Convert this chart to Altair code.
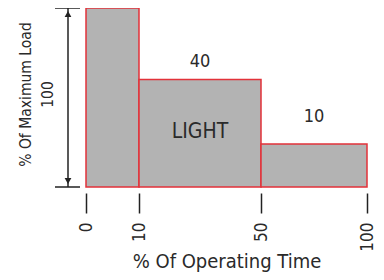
import altair as alt
import pandas as pd

# Bars: operating-time intervals and load levels
x_start = [0, 10, 50]
x_end = [10, 50, 100]
load = [100, 60, 24]

# Annotations inside/above bars
ann_text = ["40", "LIGHT", "10"]
ann_x = [30, 30, 75]
ann_y = [70, 31, 39]
ann_size = [18, 21, 18]

tick_values = [0, 10, 50, 100]

FONT = "DejaVu Sans Condensed, Roboto Condensed, Roboto, sans-serif"
TXT = "#2a2a2a"

bars_df = pd.DataFrame({"x0": x_start, "x1": x_end, "load": load, "base": [0] * 3})
ann_df = pd.DataFrame({"t": ann_text, "x": ann_x, "y": ann_y, "s": ann_size})

xscale = alt.Scale(domain=[0, 10, 50, 100], range=[0, 53, 175, 281], nice=False, zero=False)
yscale = alt.Scale(domain=[0, 100], nice=False)

bars = alt.Chart(bars_df).mark_rect(
    fill="#b3b3b3", stroke="#e2323a", strokeWidth=1.5
).encode(
    x=alt.X("x0:Q", scale=xscale,
            axis=alt.Axis(values=tick_values, title="% Of Operating Time",
                          domain=False, grid=False, tickSize=20, tickWidth=1.5,
                          tickColor="#222", offset=6, labelAngle=270,
                          labelFont=FONT, labelFontSize=17, labelColor=TXT,
                          labelPadding=9, titleFont=FONT, titleFontSize=20,
                          titleFontWeight="normal", titleColor=TXT,
                          titleY=74, titleBaseline="alphabetic")),
    x2="x1:Q",
    y=alt.Y("base:Q", scale=yscale,
            axis=alt.Axis(title=["% Of Maximum Load", "100"], domain=False, ticks=False,
                          labels=False, grid=False, titleFont=FONT, titleFontSize=15.5,
                          titleFontWeight="normal", titleColor=TXT, titleAngle=270,
                          titleX=-61, titleY=86, titleAlign="center",
                          titleBaseline="middle", titleLineHeight=22)),
    y2="load:Q",
)

ann = alt.Chart(ann_df).mark_text(font=FONT, color=TXT).encode(
    x=alt.X("x:Q", scale=xscale),
    y=alt.Y("y:Q", scale=yscale),
    text="t:N",
    size=alt.Size("s:Q", scale=None, legend=None),
)

ends_df = pd.DataFrame({"v": [0, 100]})
hlines = alt.Chart(ends_df).mark_rule(color="#222", strokeWidth=1.5).encode(
    x=alt.value(-31), x2=alt.value(-6), y=alt.Y("v:Q", scale=yscale)
)

span_df = pd.DataFrame({"a": [0], "b": [100]})
vline = alt.Chart(span_df).mark_rule(color="#222", strokeWidth=1.5).encode(
    x=alt.value(-18), y=alt.Y("a:Q", scale=yscale), y2="b:Q"
)

top_arrow = alt.Chart(pd.DataFrame({"v": [100]})).mark_point(
    shape="triangle-up", filled=True, color="#222", size=45, opacity=1, yOffset=6
).encode(x=alt.value(-18), y=alt.Y("v:Q", scale=yscale))
bot_arrow = alt.Chart(pd.DataFrame({"v": [0]})).mark_point(
    shape="triangle-down", filled=True, color="#222", size=45, opacity=1, yOffset=-6
).encode(x=alt.value(-18), y=alt.Y("v:Q", scale=yscale))

chart = alt.layer(bars, ann, hlines, vline, top_arrow, bot_arrow).properties(
    width=281, height=179, autosize="none",
    padding={"left": 78, "top": 0, "right": 9, "bottom": 85},
).configure_view(stroke=None)

chart.save("out.html", embed_options={"renderer": "svg", "actions": False})
